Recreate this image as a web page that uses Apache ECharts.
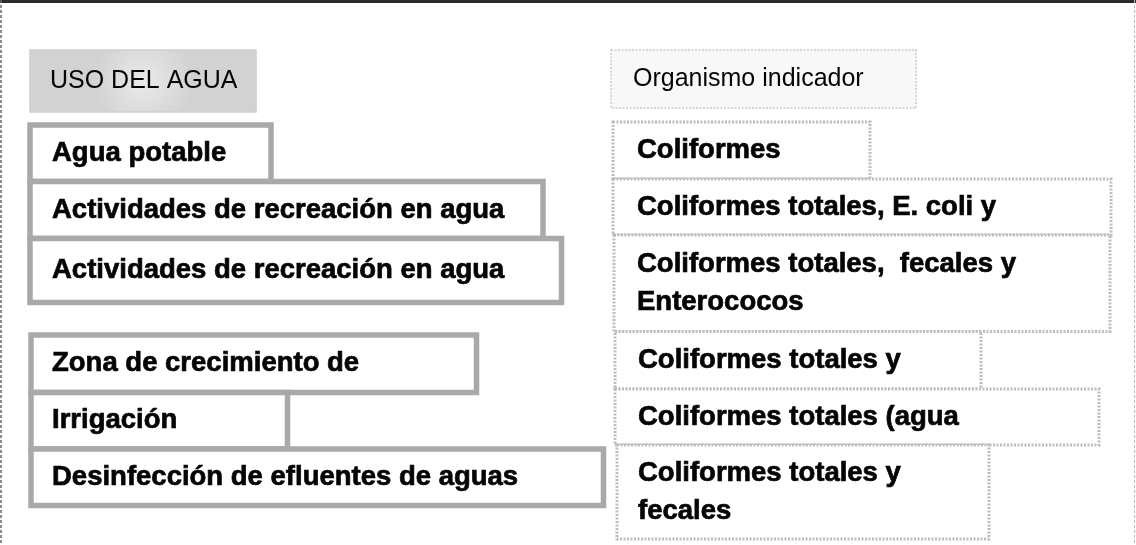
<!DOCTYPE html>
<html><head><meta charset="utf-8">
<script src="https://cdn.jsdelivr.net/npm/echarts@6/dist/echarts.min.js"></script>
<style>html,body{margin:0;padding:0;background:#fff}#c{width:1136px;height:545px}</style>
</head><body><div id="c"></div><script>
// Header boxes
const headerLabels = ['USO DEL AGUA', 'Organismo indicador'];
const headerLeft = [30, 611];
const headerRight = [256, 916];
const headerTop = [50, 50];
const headerBottom = [112, 108];

// Left column: uso del agua
const leftLabels = ['Agua potable', 'Actividades de recreación en agua', 'Actividades de recreación en agua',
  'Zona de crecimiento de', 'Irrigación', 'Desinfección de efluentes de aguas'];
const leftStart = [30, 30, 30, 31, 31, 31];
const leftEnd = [271, 543, 561.5, 476.5, 287.5, 603.5];
const leftTop = [125, 181.5, 238.5, 335, 392.5, 449];
const leftBottom = [181.5, 238.5, 302.5, 392.5, 449, 505.5];

// Right column: organismo indicador
const rightLabels = ['Coliformes', 'Coliformes totales, E. coli y', 'Coliformes totales,  fecales y\nEnterococos',
  'Coliformes totales y', 'Coliformes totales (agua', 'Coliformes totales y\nfecales'];
const rightStart = [613, 613, 614, 615, 615, 617];
const rightEnd = [870, 1111, 1110, 981, 1099, 989];
const rightTop = [122, 179, 235, 331.5, 389, 445];
const rightBottom = [179, 235, 331.5, 389, 445, 539];

function rows(s, e, t, b) { return s.map((v, i) => [v, e[i], t[i], b[i]]); }

function boxRenderer(labels, styleFn, textFont, textInset, fillFn, heavy) {
  return function (params, api) {
    const p0 = api.coord([api.value(0), api.value(2)]);
    const p1 = api.coord([api.value(1), api.value(3)]);
    const i = params.dataIndex;
    const ts = { text: labels[i], font: textFont, fill: '#050505', verticalAlign: 'middle', lineHeight: 38 };
    if (heavy) { ts.stroke = '#050505'; ts.lineWidth = 0.7; }
    return {
      type: 'group',
      children: [
        { type: 'rect', shape: { x: p0[0], y: p0[1], width: p1[0] - p0[0], height: p1[1] - p0[1] },
          style: Object.assign({ fill: fillFn ? fillFn(i) : '#fff' }, styleFn(i)) },
        { type: 'text', x: p0[0] + textInset[i], y: (p0[1] + p1[1]) / 2, style: ts }
      ]
    };
  };
}

const chart = echarts.init(document.getElementById('c'), null, { renderer: 'canvas' });
chart.setOption({
  animation: false,
  backgroundColor: '#ffffff',
  grid: { left: 0, right: 0, top: 0, bottom: 0 },
  xAxis: { type: 'value', min: 0, max: 1136, show: false },
  yAxis: { type: 'value', min: 0, max: 545, inverse: true, show: false },
  graphic: [
    { type: 'line', shape: { x1: 0, y1: 1.5, x2: 1136, y2: 1.5 }, style: { stroke: '#2a2a2a', lineWidth: 3 } },
    { type: 'line', shape: { x1: 1, y1: 0, x2: 1, y2: 545 }, style: { stroke: '#666', lineWidth: 1.5, lineDash: [3, 2] } },
    { type: 'line', shape: { x1: 1134.5, y1: 0, x2: 1134.5, y2: 545 }, style: { stroke: '#bbb', lineWidth: 1, lineDash: [3, 2] } }
  ],
  series: [
    {
      type: 'custom', coordinateSystem: 'cartesian2d', silent: true,
      data: rows(headerLeft, headerRight, headerTop, headerBottom),
      renderItem: boxRenderer(headerLabels,
        i => i === 0 ? { stroke: '#d0d0d0', lineWidth: 1.5 } : { stroke: '#d6d6d6', lineWidth: 2, lineDash: [2, 1.5] },
        '25px "Liberation Sans", Arial, sans-serif', [20, 22],
        i => i === 0
          ? new echarts.graphic.RadialGradient(0.5, 0.5, 0.8, [{ offset: 0, color: '#eaeaea' }, { offset: 1, color: '#d2d2d2' }])
          : '#f8f8f8', false)
    },
    {
      type: 'custom', coordinateSystem: 'cartesian2d', silent: true,
      data: rows(leftStart, leftEnd, leftTop, leftBottom),
      renderItem: boxRenderer(leftLabels, () => ({ stroke: '#a9a9a9', lineWidth: 5.5 }),
        'bold 27.5px "Liberation Sans", Arial, sans-serif', [22, 22, 22, 21, 21, 21], null, true)
    },
    {
      type: 'custom', coordinateSystem: 'cartesian2d', silent: true,
      data: rows(rightStart, rightEnd, rightTop, rightBottom),
      renderItem: boxRenderer(rightLabels, () => ({ stroke: '#bdbdbd', lineWidth: 3, lineDash: [2, 1.5] }),
        'bold 27.5px "Liberation Sans", Arial, sans-serif', [24, 24, 23, 23, 23, 21], null, true)
    }
  ]
});
</script></body></html>
